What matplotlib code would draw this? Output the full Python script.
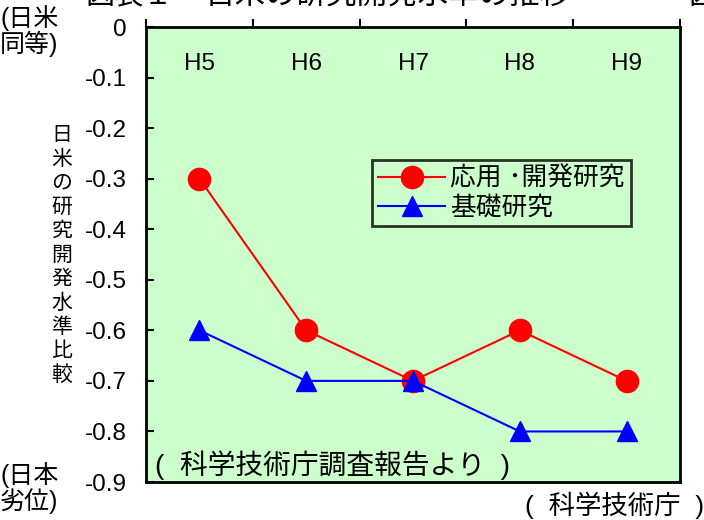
import matplotlib
matplotlib.use("Agg")
import matplotlib.pyplot as plt
from matplotlib.ticker import FixedLocator

plt.rcParams['font.family'] = ['Liberation Sans', 'Noto Sans CJK JP', 'DejaVu Sans']
num_size = 17.5

years = ["H5", "H6", "H7", "H8", "H9"]
applied = [-0.3, -0.6, -0.7, -0.6, -0.7]
basic = [-0.6, -0.7, -0.7, -0.8, -0.8]
yticks = [0, -0.1, -0.2, -0.3, -0.4, -0.5, -0.6, -0.7, -0.8, -0.9]

W, H = 704, 520
fig = plt.figure(figsize=(W / 100, H / 100), dpi=100)
ax = fig.add_axes([146 / W, 1 - 482 / H, (680 - 146) / W, (482 - 27) / H])
ax.set_facecolor("#CCFFCC")

xs = [i + 0.5 for i in range(len(years))]
ax.plot(xs, applied, color="red", lw=1.5, marker="o", ms=16,
        markerfacecolor="red", markeredgecolor="red", label="応用 ･開発研究", zorder=3)
ax.plot(xs, basic, color="blue", lw=1.5, marker="^", ms=15,
        markerfacecolor="blue", markeredgecolor="blue", label="基礎研究", zorder=3)

ax.set_xlim(0, len(years))
ax.set_ylim(-0.9, 0)
ax.xaxis.set_major_locator(FixedLocator(range(len(years) + 1)))
ax.xaxis.tick_top()
ax.tick_params(axis="x", direction="out", length=6, width=1.5, labeltop=False)
ax.set_yticks(yticks)
ax.set_yticklabels([("%g" % v) for v in yticks], fontsize=num_size)
ax.tick_params(axis="y", direction="in", length=6, width=1.5, pad=14)
for s in ax.spines.values():
    s.set_linewidth(2)
    s.set_color("black")

for x, lab in zip(xs, years):
    ax.text(x, -0.074, lab, ha="center", va="center", fontsize=num_size)

leg = ax.legend(loc="upper left", bbox_to_anchor=((372 - 146) / (680 - 146), 1 - (160 - 27) / (482 - 27)),
                fontsize=18.5, frameon=True, fancybox=False, edgecolor="black",
                facecolor="#CCFFCC", handlelength=2.6, borderpad=0.25,
                labelspacing=0.2, handletextpad=0.2, borderaxespad=0)
leg.get_frame().set_linewidth(2)

ax.text((155 - 146) / (680 - 146), 0.038, "(  科学技術庁調査報告より  )", transform=ax.transAxes,
        ha="left", va="center", fontsize=20)

# vertical axis title, one character per line
ylabel = "日米の研究開発水準比較"
for i, ch in enumerate(ylabel):
    fig.text(62 / W, 1 - (135 + 24 * i) / H, ch, ha="center", va="center",
             fontsize=15)

fig.text(0.0, 1 - 31 / H, "(日米\n同等)", ha="left", va="center", fontsize=18,
         linespacing=1.0)
fig.text(0.0, 1 - 488 / H, "(日本\n劣位)", ha="left", va="center", fontsize=18,
         linespacing=1.0)
fig.text(1.0, 1 - 505 / H, "(  科学技術庁  )", ha="right", va="center", fontsize=19)
fig.text(85 / W, 1 - 4 / H, "図表１", ha="left", va="baseline", fontsize=21)
fig.text(205 / W, 1 - 4 / H, "日米の研究開発水準の推移", ha="left", va="baseline",
         fontsize=22)
fig.text(688 / W, 1 - 4 / H, "図", ha="left", va="baseline", fontsize=21)

fig.savefig("out.png", dpi=100)
